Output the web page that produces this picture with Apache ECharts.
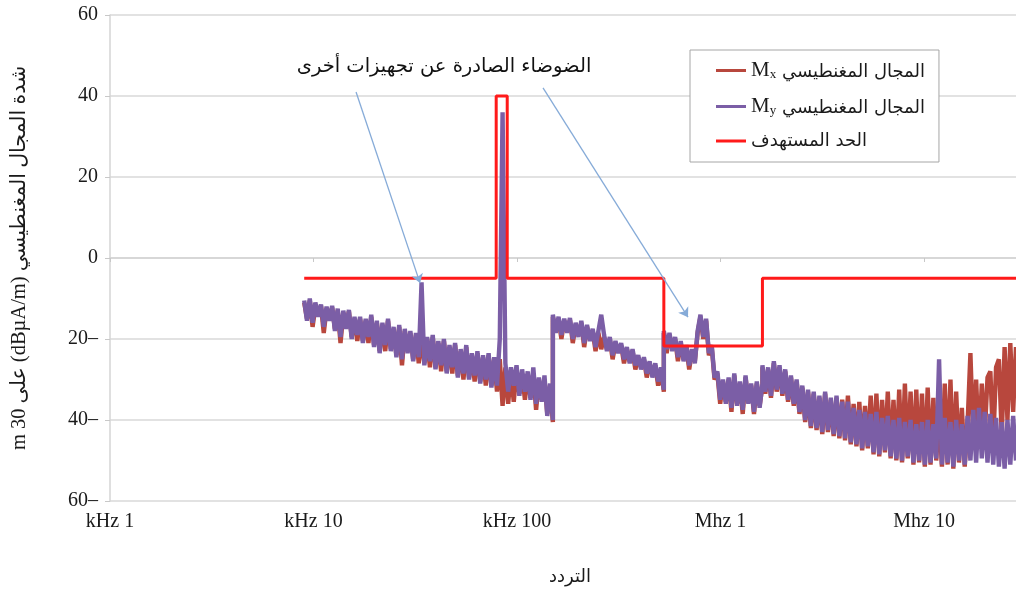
<!DOCTYPE html>
<html>
<head>
<meta charset="utf-8">
<script src="https://cdn.jsdelivr.net/npm/echarts@6/dist/echarts.min.js"></script>
<style>
  html, body { margin: 0; padding: 0; background: #ffffff; }
  #chart { width: 1016px; height: 596px; }
</style>
</head>
<body>
<div id="chart"></div>
<script>
// Receiver sweep bands (Hz): each band is swept with evenly spaced points on a log scale
const bandEdgesHz = [9000, 150000, 526500, 1606500, 28300000];

// Magnetic field, My component (dBµA/m at 30 m), one array per sweep band
const myBandA = [
  -10.5, -15.5, -10, -16, -11, -14.5, -11.5, -17, -12, -15.5,
  -11.8, -18, -12.5, -19.5, -13, -17.5, -12.8, -20, -14.5, -19,
  -14.5, -21, -15, -19.5, -14, -22, -15.5, -23.5, -16, -21.5,
  -15, -23, -17, -24.5, -16.5, -25, -17.5, -23.5, -18, -25.5,
  -18.5, -24.5, -6, -26.5, -19.5, -25.5, -19, -27.5, -20.5, -26.5,
  -20, -28.5, -21.5, -27, -21, -29.5, -22.5, -28.5, -21.5, -30,
  -23.5, -29, -23, -31, -24, -30, -23.5, -32, -24.5, -31.5,
  -20, 36, -26, -33, -27, -31.5, -26.5, -34, -27.5, -33,
  -28, -35, -27, -36, -29.5, -35.5, -29, -39, -31, -40
];
const myBandB = [
  -14, -18.5, -14.5, -19, -15, -18.5, -14.8, -20, -16, -19.5,
  -15.5, -21, -16.5, -20.5, -17.5, -22, -18, -14, -19, -23,
  -19.5, -24, -20.5, -23.5, -21, -25, -22, -26, -22.5, -26.5,
  -24, -27.5, -24.5, -28.5, -25.5, -29.5, -26, -30.5, -27, -32.5
];
const myBandC = [
  -18, -22.5, -18.5, -23, -19.5, -24.5, -20.5, -25.5, -21.5, -26.5,
  -22.5, -26, -18, -14, -19.5, -15, -23.5, -21.5, -29.5, -28,
  -35, -30, -36, -29.5, -37, -28.5, -36.5, -30.5, -37.5, -29,
  -36, -31, -38, -30.5, -37, -31
];
const myBandD = [
  -26.5, -33, -27, -34, -25.5, -32.5, -26.5, -33.5, -27.5, -35,
  -29, -36, -30, -38, -31.5, -40, -32.5, -41.5, -33, -42,
  -34, -43, -33, -42.5, -34.5, -43.5, -34, -44, -35.5, -44.5,
  -35.5, -45.5, -37, -46, -37.5, -47, -38, -46.5, -38.5, -48,
  -38, -48.5, -39.5, -47.5, -39, -49, -40, -49.5, -39.5, -50,
  -40.5, -49, -40, -50.5, -41, -50, -40.5, -51, -40, -50.5,
  -41, -49.5, -25, -51, -39.5, -50.5, -40.5, -51.5, -40, -50,
  -41, -51, -39, -50, -37.5, -50.5, -37, -49.5, -38, -50.5,
  -38.5, -51, -39.5, -51.5, -40.5, -52, -40, -51, -39, -50
];

// Magnetic field, Mx component (dBµA/m at 30 m)
const mxBandA = [
  -11, -15, -10.5, -17, -12, -14, -11.8, -18.5, -12.5, -15,
  -12.2, -17.5, -13, -21, -13.5, -17, -13.2, -19.5, -15, -20.5,
  -15, -20.5, -15.5, -21, -14.5, -21.5, -16, -23, -16.5, -23,
  -15.5, -22.5, -17.5, -24, -17, -26.5, -18, -23, -18.5, -25,
  -19, -26, -19.5, -26, -20, -27, -19.5, -27, -21, -28,
  -20.5, -28, -22, -28.5, -21.5, -29, -23, -30, -22, -29.5,
  -24, -30.5, -23.5, -30.5, -24.5, -31.5, -24, -31.5, -25, -33,
  -25, -36.5, -27, -36, -28, -35.5, -27.5, -33.5, -28.5, -35,
  -29, -34.5, -28.5, -37.5, -30, -35, -30, -38.5, -31.5, -40.5
];
const mxBandB = [
  -14.5, -18, -15, -20, -15.5, -18, -15.3, -21, -16.5, -19,
  -16, -22, -17, -20, -18, -23, -18.5, -22.5, -19.5, -22.5,
  -20, -25, -21, -23, -21.5, -26, -22.5, -25.5, -23, -27.5,
  -24.5, -27, -25, -29.5, -26, -29, -26.5, -31.5, -27.5, -33
];
const mxBandC = [
  -18.5, -23.5, -19, -22.5, -20, -25.5, -21, -25, -22, -27.5,
  -23, -25.5, -18.5, -14.5, -20, -15.5, -24, -22, -30, -28.5,
  -36, -30.5, -35.5, -30, -38, -29, -36, -31, -38.5, -29.5,
  -35.5, -31.5, -38.5, -31, -36.5, -31.5
];
const mxBandD = [
  -27, -33.5, -27.5, -34.5, -26, -33, -27, -34, -28, -35.5,
  -29.5, -36.5, -30.5, -38.5, -32, -40.5, -33, -42, -33.5, -42.5,
  -34.5, -43.5, -33.5, -43, -35, -44, -34.5, -44.5, -35, -45,
  -34, -46, -36, -46.5, -35.5, -47.5, -36.5, -47, -34, -48.5,
  -33.5, -49, -35, -48, -33, -49.5, -35, -50, -32.5, -50.5,
  -31, -49.5, -33, -51, -32.5, -50.5, -33.5, -51.5, -32, -51,
  -34.5, -50, -38, -51.5, -31, -51, -30, -52, -33, -50.5,
  -37, -51.5, -41, -23.5, -45, -30, -47, -31, -44, -29.5,
  -28, -46, -27, -25, -44, -22, -40, -21, -38, -22
];

// Target limit: breakpoints (Hz) and the level that starts at each one
const limitHz = [9000, 79000, 89500, 526500, 1606500, 28300000];
const limitLevel = [-5, 40, -5, -21.7, -5, -5];

// Axis tick labels
const decadeExponents = [3, 4, 5, 6, 7];
const decadeLabels = ['kHz 1', 'kHz 10', 'kHz 100', 'Mhz 1', 'Mhz 10'];

// Note arrows: [start, end] as [Hz, dBµA/m]
const noteArrows = [
  [[16180, 41], [33380, -6.2]],
  [[134200, 42], [692000, -14.6]]
];
const noteText = 'الضوضاء الصادرة عن تجهيزات أخرى';

const LATIN = '"Liberation Serif", "DejaVu Sans", serif';
const ARABIC = '"DejaVu Sans", "Liberation Serif", sans-serif';

// Place each band's values on its log-spaced sweep points
function sweep(band, values) {
  const lo = Math.log10(bandEdgesHz[band]);
  const hi = Math.log10(bandEdgesHz[band + 1]);
  return values.map((v, i) => [Math.pow(10, lo + (hi - lo) * i / (values.length - 1)), v]);
}
const myTrace = [].concat(sweep(0, myBandA), sweep(1, myBandB), sweep(2, myBandC), sweep(3, myBandD));
const mxTrace = [].concat(sweep(0, mxBandA), sweep(1, mxBandB), sweep(2, mxBandC), sweep(3, mxBandD));
const limitLine = limitHz.map((f, i) => [f, limitLevel[i]]);

const NAME_MX = 'المجال المغنطيسي Mx';
const NAME_MY = 'المجال المغنطيسي My';
const NAME_LIMIT = 'الحد المستهدف';
const legendRich = {};
legendRich[NAME_MX] = '{m|M}{s|x}{a| المجال المغنطيسي}';
legendRich[NAME_MY] = '{m|M}{s|y}{a| المجال المغنطيسي}';
legendRich[NAME_LIMIT] = '{a|الحد المستهدف}';

const chart = echarts.init(document.getElementById('chart'), null, { renderer: 'canvas' });

chart.setOption({
  animation: false,
  backgroundColor: '#ffffff',
  grid: { left: 110, right: 0, top: 15, bottom: 95, containLabel: false },
  xAxis: {
    type: 'log',
    logBase: 10,
    min: 1000,
    max: 28300000,
    name: 'التردد',
    nameLocation: 'middle',
    nameGap: 67,
    nameTextStyle: { fontFamily: ARABIC, fontSize: 18, color: '#1a1a1a', padding: [0, 0, 0, 14] },
    axisLine: { show: true, lineStyle: { color: '#d4d4d4', width: 1.5 } },
    axisTick: { show: true, length: 4, lineStyle: { color: '#c8c8c8' } },
    minorTick: { show: false },
    splitLine: { show: false },
    minorSplitLine: { show: false },
    axisLabel: {
      margin: 11,
      fontFamily: LATIN,
      fontSize: 20,
      color: '#1a1a1a',
      showMaxLabel: false,
      formatter: function (v) {
        const e = Math.log10(v);
        const k = decadeExponents.findIndex(d => Math.abs(d - e) < 1e-6);
        return k >= 0 ? decadeLabels[k] : '';
      }
    }
  },
  yAxis: {
    type: 'value',
    min: -60,
    max: 60,
    interval: 20,
    name: 'm 30 على (dBµA/m) شدة المجال المغنطيسي',
    nameLocation: 'middle',
    nameRotate: 90,
    nameGap: 80,
    nameTextStyle: { fontFamily: LATIN, fontSize: 20.5, color: '#1a1a1a' },
    axisLine: { show: true, lineStyle: { color: '#d4d4d4', width: 1.5 } },
    axisTick: { show: true, length: 5, lineStyle: { color: '#c8c8c8' } },
    splitLine: { show: true, lineStyle: { color: '#d9d9d9', width: 1.5 } },
    axisLabel: {
      margin: 12,
      fontFamily: LATIN,
      fontSize: 20,
      color: '#1a1a1a',
      formatter: v => (v < 0 ? (-v) + '–' : String(v))
    }
  },
  legend: {
    orient: 'vertical',
    left: 690,
    top: 50,
    padding: [10, 14, 12, 26],
    itemGap: 15,
    itemWidth: 30,
    itemHeight: 3,
    icon: 'rect',
    backgroundColor: '#ffffff',
    borderColor: '#a6a6a6',
    borderWidth: 1,
    data: [NAME_MX, NAME_MY, NAME_LIMIT],
    formatter: name => legendRich[name],
    textStyle: {
      color: '#1a1a1a',
      rich: {
        a: { fontFamily: ARABIC, fontSize: 18, color: '#1a1a1a', verticalAlign: 'bottom' },
        m: { fontFamily: LATIN, fontSize: 21, color: '#1a1a1a', verticalAlign: 'bottom' },
        s: { fontFamily: LATIN, fontSize: 13, color: '#1a1a1a', verticalAlign: 'bottom' }
      }
    }
  },
  graphic: [{
    type: 'text',
    x: 444,
    y: 57,
    silent: true,
    style: {
      text: noteText,
      align: 'center',
      verticalAlign: 'top',
      font: '19.5px "DejaVu Sans"',
      fill: '#111111'
    }
  }],
  series: [
    {
      name: NAME_MX,
      type: 'line',
      data: mxTrace,
      showSymbol: false,
      symbol: 'none',
      itemStyle: { color: '#b8473d' },
      lineStyle: { color: '#b8473d', width: 4.4, join: 'bevel' },
      z: 2
    },
    {
      name: NAME_MY,
      type: 'line',
      data: myTrace,
      showSymbol: false,
      symbol: 'none',
      itemStyle: { color: '#7b5ea6' },
      lineStyle: { color: '#7b5ea6', width: 4.4, join: 'bevel' },
      z: 3
    },
    {
      name: NAME_LIMIT,
      type: 'line',
      data: limitLine,
      step: 'end',
      showSymbol: false,
      symbol: 'none',
      itemStyle: { color: '#ff1a1a' },
      lineStyle: { color: '#ff1a1a', width: 3 },
      z: 4,
      markLine: {
        silent: true,
        animation: false,
        symbol: ['none', 'arrow'],
        symbolSize: 9,
        label: { show: false },
        emphasis: { disabled: true },
        lineStyle: { color: '#86abd8', width: 1.3, type: 'solid' },
        data: noteArrows.map(a => [{ coord: a[0] }, { coord: a[1] }])
      }
    }
  ]
});
</script>
</body>
</html>
